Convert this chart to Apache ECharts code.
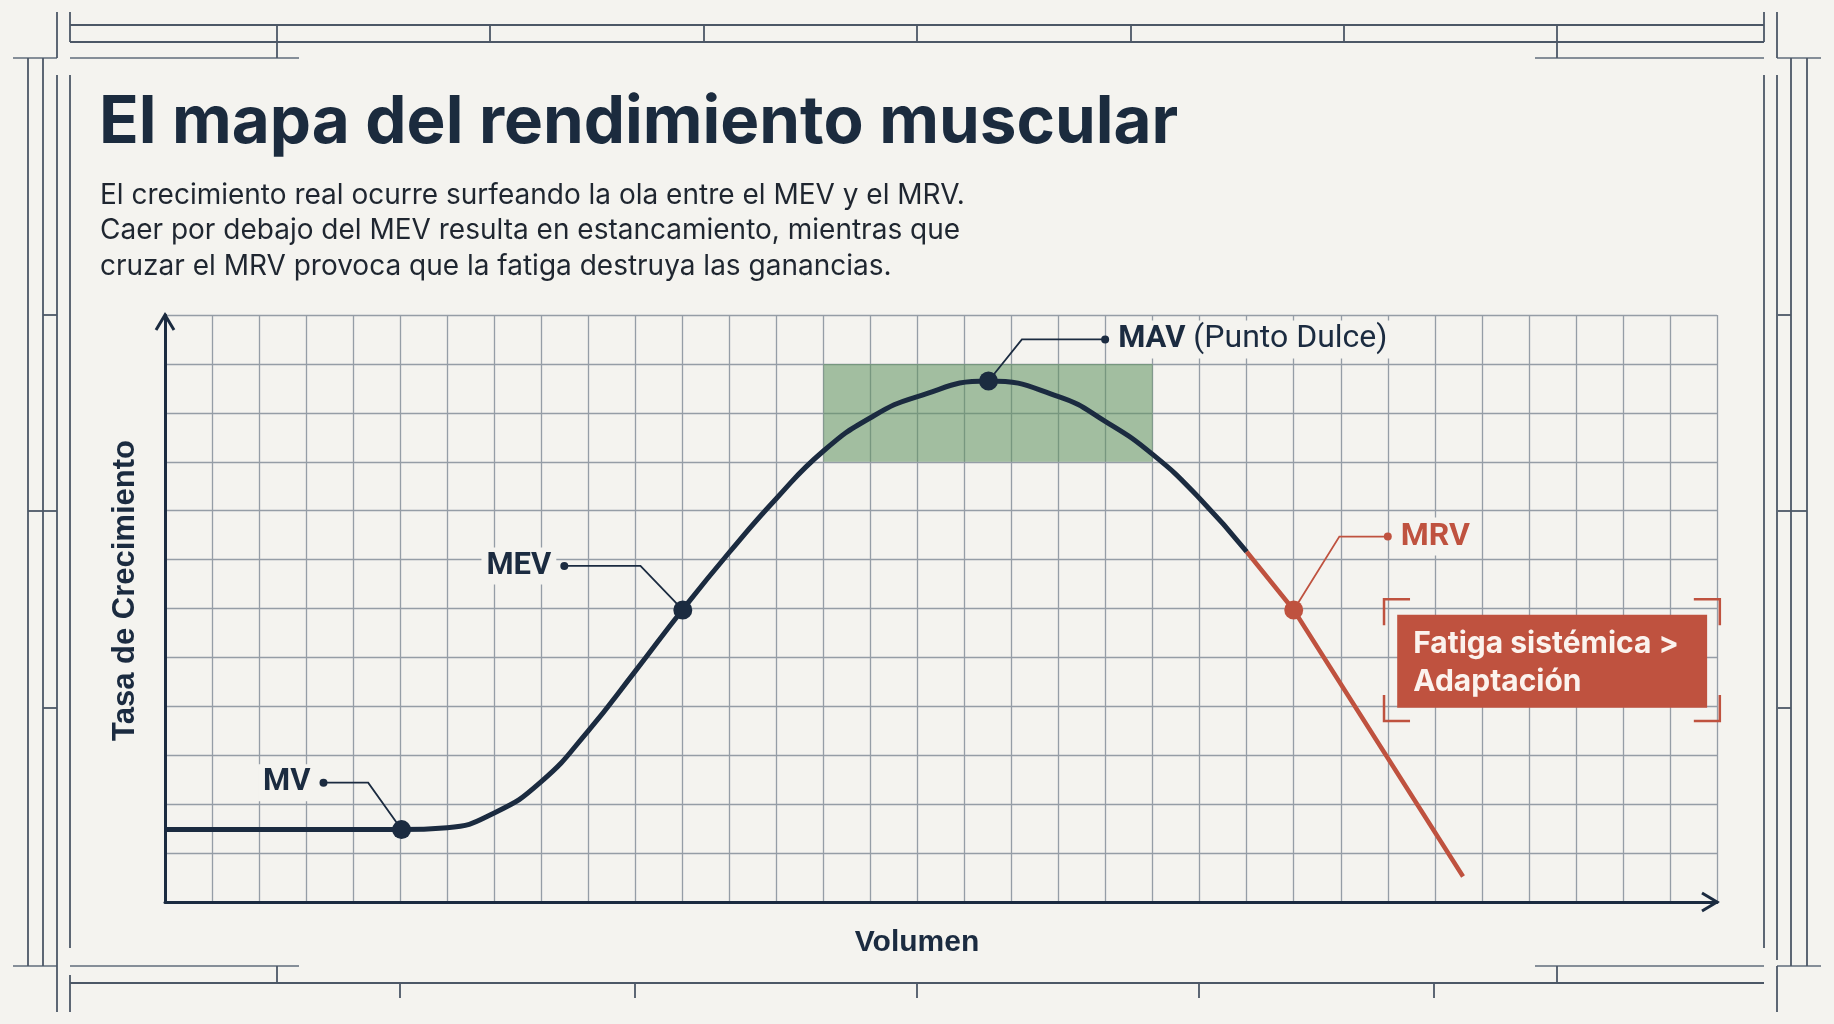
<!DOCTYPE html>
<html>
<head>
<meta charset="utf-8">
<script src="https://cdn.jsdelivr.net/npm/echarts@6.0.0/dist/echarts.min.js"></script>
<style>
  html, body { margin: 0; padding: 0; background: #f4f3ef; }
  #main { width: 1834px; height: 1024px; }
</style>
</head>
<body>
<div id="main"></div>
<script>
// ---- data (grid units: volume on x, growth rate on y) ----
const curveX = [0, 1, 2, 3, 4, 5, 6, 7, 8, 9, 10, 11, 12, 13, 14, 15, 16, 17.5, 19, 20, 21, 22, 23];
const curveY = [1.48, 1.48, 1.48, 1.48, 1.48, 1.48, 1.52, 1.82, 2.46, 3.5, 4.72, 5.97, 7.15, 8.25, 9.22, 9.9, 10.33, 10.65, 10.33, 9.82, 9.15, 8.25, 7.16];
const fatigueX = [23, 24, 27.6];
const fatigueY = [7.16, 5.97, 0.52];

const keyNames = ['MV', 'MEV', 'MAV', 'MRV'];
const keyX = [5.03, 11.01, 17.51, 24];
const keyY = [1.48, 5.97, 10.65, 5.97];
// label tags and leader elbows
const tagX = [3.37, 8.49, 19.99, 26.0];
const tagY = [2.44, 6.87, 11.5, 7.47];
const elbowX = [4.32, 10.11, 18.22, 24.97];

const zoneX = [14, 21];
const zoneY = [9, 11];
const xMax = 33;
const yMax = 12;

const titleText = 'El mapa del rendimiento muscular';
const subText = [
  'El crecimiento real ocurre surfeando la ola entre el MEV y el MRV.',
  'Caer por debajo del MEV resulta en estancamiento, mientras que',
  'cruzar el MRV provoca que la fatiga destruya las ganancias.'
];
const calloutLines = ['Fatiga sistémica >', 'Adaptación'];

const navy = '#1b2b40';
const red = '#bf523f';
const paper = '#f4f3ef';

const chart = echarts.init(document.getElementById('main'));

const labelSide = ['left', 'left', 'right', 'right'];
const keyColor = [navy, navy, navy, red];

const option = {
  backgroundColor: paper,
  animation: false,
  title: [
    {
      text: titleText, left: 94, top: 78,
      textStyle: { fontFamily: 'Inter', fontWeight: 700, fontSize: 65.5, lineHeight: 80, color: '#1b2b3e' }
    },
    {
      text: subText.join('\n'), left: 95, top: 173,
      textStyle: { fontFamily: 'Inter', fontWeight: 400, fontSize: 28, lineHeight: 35.3, color: '#1f2630' }
    }
  ],
  grid: { left: 165, top: 315, right: 117, bottom: 122 },
  xAxis: {
    type: 'value', min: 0, max: xMax, interval: 1,
    name: 'Volumen', nameLocation: 'middle', nameGap: 26,
    nameTextStyle: { fontFamily: 'Liberation Sans', fontWeight: 'bold', fontSize: 30, color: navy, padding: [0, 48, 0, 0] },
    axisLine: { show: true, lineStyle: { color: navy, width: 3 } },
    axisTick: { show: false }, axisLabel: { show: false },
    splitLine: { show: true, lineStyle: { color: '#959da6', width: 1.3 } }
  },
  yAxis: {
    type: 'value', min: 0, max: yMax, interval: 1,
    name: 'Tasa de Crecimiento', nameLocation: 'middle', nameGap: 24, nameRotate: 90,
    nameTextStyle: { fontFamily: 'Liberation Sans', fontWeight: 'bold', fontSize: 31, color: navy, padding: [0, 0, 0, 36] },
    axisLine: { show: true, lineStyle: { color: navy, width: 3 } },
    axisTick: { show: false }, axisLabel: { show: false },
    splitLine: { show: true, lineStyle: { color: '#959da6', width: 1.3 } }
  },
  series: [
    {
      type: 'line', name: 'crecimiento', z: 3,
      data: curveX.map((x, i) => [x, curveY[i]]),
      smooth: 0.5, showSymbol: false,
      lineStyle: { color: navy, width: 5, opacity: 1 },
      markArea: {
        silent: true,
        itemStyle: { color: 'rgba(95,145,95,0.55)' },
        data: [[{ coord: [zoneX[0], zoneY[1]] }, { coord: [zoneX[1], zoneY[0]] }]]
      }
    },
    {
      type: 'line', name: 'fatiga', z: 3,
      data: fatigueX.map((x, i) => [x, fatigueY[i]]),
      showSymbol: false,
      lineStyle: { color: red, width: 4.5, opacity: 1 }
    },
    {
      type: 'lines', coordinateSystem: 'cartesian2d', polyline: true, z: 4, silent: true,
      lineStyle: { width: 1.8, opacity: 1 },
      data: keyNames.map((n, i) => ({
        coords: [[tagX[i], tagY[i]], [elbowX[i], tagY[i]], [keyX[i], keyY[i]]],
        lineStyle: { color: keyColor[i], opacity: 1 }
      }))
    },
    {
      type: 'scatter', z: 5, symbolSize: 8, silent: true,
      itemStyle: { opacity: 1 },
      data: keyNames.map((n, i) => ({
        value: [tagX[i], tagY[i]],
        name: n,
        itemStyle: { color: keyColor[i], opacity: 1 },
        label: { position: labelSide[i] }
      })),
      label: {
        show: true, distance: 4,
        backgroundColor: paper, padding: [3, 5],
        formatter: p => p.name === 'MAV' ? '{b|MAV}{r| (Punto Dulce)}' : (p.name === 'MRV' ? '{red|MRV}' : '{b|' + p.name + '}'),
        rich: {
          b: { fontFamily: 'Roboto', fontWeight: 'bold', fontSize: 31, color: navy },
          r: { fontFamily: 'Roboto', fontWeight: 400, fontSize: 32, color: navy },
          red: { fontFamily: 'Roboto', fontWeight: 'bold', fontSize: 32, color: red }
        }
      }
    },
    {
      type: 'scatter', z: 6, symbolSize: 19, silent: true,
      itemStyle: { opacity: 1 },
      data: keyNames.map((n, i) => ({ value: [keyX[i], keyY[i]], itemStyle: { color: keyColor[i], opacity: 1 } }))
    }
  ]
};
chart.setOption(option);

// ---- decoration: axis chevrons, callout, blueprint frame ----
const px = p => chart.convertToPixel({ gridIndex: 0 }, p);
const xEnd = px([xMax, 0]);
const yEnd = px([0, yMax]);

const box = { x0: 26.2, x1: 32.79, y0: 3.97, y1: 5.87 };
const brk = { x0: 25.92, x1: 33.06, y0: 3.70, y1: 6.19 };
const b0 = px([box.x0, box.y1]), b1 = px([box.x1, box.y0]);
const k0 = px([brk.x0, brk.y1]), k1 = px([brk.x1, brk.y0]);
const arm = 26;

const frameLines = [
  [70, 25, 1764, 25], [70, 42, 1764, 42],
  [13, 58, 57, 58], [70, 58, 299, 58], [1535, 58, 1764, 58], [1777, 58, 1821, 58],
  [13, 966, 57, 966], [70, 966, 299, 966], [1535, 966, 1764, 966], [1777, 966, 1821, 966],
  [70, 983, 1764, 983],
  [28, 58, 28, 966], [43, 58, 43, 966],
  [57, 12, 57, 58], [57, 75, 57, 1012],
  [70, 12, 70, 42], [70, 75, 70, 948], [70, 975, 70, 1012],
  [1807, 58, 1807, 966], [1791, 58, 1791, 966],
  [1777, 12, 1777, 58], [1777, 75, 1777, 960], [1777, 966, 1777, 1012],
  [1764, 12, 1764, 42], [1764, 75, 1764, 948],
  [277, 25, 277, 58], [490, 25, 490, 42], [704, 25, 704, 42], [917, 25, 917, 42],
  [1131, 25, 1131, 42], [1344, 25, 1344, 42], [1557, 25, 1557, 58],
  [277, 966, 277, 983], [1557, 966, 1557, 983],
  [400, 983, 400, 998], [635, 983, 635, 998], [917, 983, 917, 998], [1199, 983, 1199, 998], [1434, 983, 1434, 998],
  [43, 315, 57, 315], [28, 511, 57, 511], [43, 708, 57, 708],
  [1778, 315, 1791, 315], [1778, 511, 1807, 511], [1778, 708, 1791, 708]
];

const graphic = frameLines.map(l => ({
  type: 'line', silent: true,
  shape: { x1: l[0], y1: l[1], x2: l[2], y2: l[3] },
  style: { stroke: (l[1] === l[3] && (l[1] === 58 || l[1] === 966)) ? '#858e98' : '#4c5766', lineWidth: 1.8 }
}));

graphic.push(
  { type: 'polyline', silent: true, z: 10,
    shape: { points: [[xEnd[0] - 15, xEnd[1] - 9], [xEnd[0], xEnd[1]], [xEnd[0] - 15, xEnd[1] + 9]] },
    style: { stroke: navy, lineWidth: 3, fill: null } },
  { type: 'polyline', silent: true, z: 10,
    shape: { points: [[yEnd[0] - 9, yEnd[1] + 15], [yEnd[0], yEnd[1]], [yEnd[0] + 9, yEnd[1] + 15]] },
    style: { stroke: navy, lineWidth: 3, fill: null } },
  { type: 'rect', silent: true, z: 10,
    shape: { x: b0[0], y: b0[1], width: b1[0] - b0[0], height: b1[1] - b0[1] },
    style: { fill: red } },
  { type: 'text', silent: true, z: 11,
    x: b0[0] + 16, y: b0[1] + 10,
    style: { text: calloutLines.join('\n'), fill: '#fbf3ee', font: '700 30px Inter', lineHeight: 38 } }
);
[
  [[k0[0], k0[1] + arm], [k0[0], k0[1]], [k0[0] + arm, k0[1]]],
  [[k1[0] - arm, k0[1]], [k1[0], k0[1]], [k1[0], k0[1] + arm]],
  [[k0[0], k1[1] - arm], [k0[0], k1[1]], [k0[0] + arm, k1[1]]],
  [[k1[0] - arm, k1[1]], [k1[0], k1[1]], [k1[0], k1[1] - arm]]
].forEach(pts => graphic.push({
  type: 'polyline', silent: true, z: 10,
  shape: { points: pts }, style: { stroke: red, lineWidth: 2.5, fill: null }
}));

chart.setOption({ graphic: graphic });
</script>
</body>
</html>
